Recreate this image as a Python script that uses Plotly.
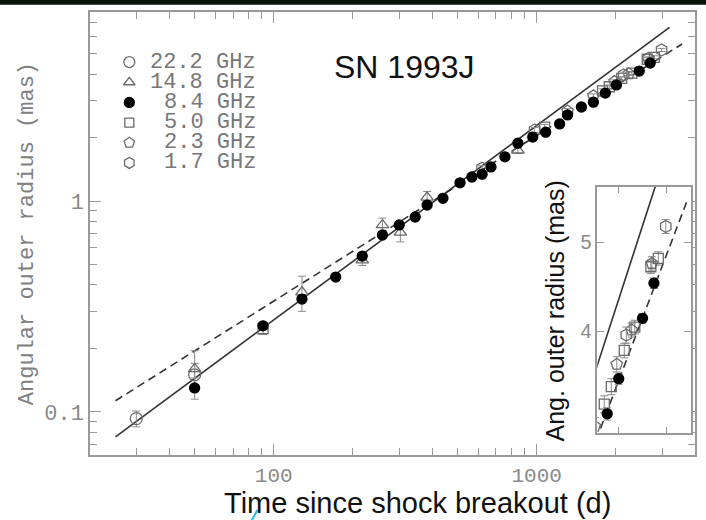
import plotly.graph_objects as go

# ---------------- data ----------------
days_222 = [30, 50]
r_222 = [0.093, 0.150]
e_222 = [0.008, 0.020]

days_148 = [50, 128, 217, 259, 303, 383, 848]
r_148 = [0.160, 0.37, 0.525, 0.77, 0.71, 1.04, 1.74]
e_148 = [0.035, 0.07, 0.03, 0.06, 0.07, 0.07, 0.06]

days_84 = [50, 91, 128, 172, 217, 259, 300, 345, 383, 440, 511, 567, 620, 670,
           757, 848, 966, 1082, 1222, 1310, 1479, 1643, 1824, 2010, 2455, 2702]
r_84 = [0.130, 0.256, 0.343, 0.436, 0.548, 0.69, 0.77, 0.84, 0.957, 1.03, 1.22,
        1.30, 1.34, 1.45, 1.62, 1.88, 2.01, 2.12, 2.32, 2.56, 2.79, 2.94, 3.25,
        3.55, 4.13, 4.51]
e_84 = [0.015, 0.008, 0.01, 0.01, 0.012, 0.015, 0.015, 0.02, 0.02, 0.02, 0.025,
        0.025, 0.025, 0.03, 0.03, 0.035, 0.035, 0.04, 0.04, 0.04, 0.04, 0.04, 0.05,
        0.05, 0.05, 0.06]

days_50 = [91, 1072, 1780, 1888, 2106, 2300, 2632, 2803]
r_50 = [0.248, 2.24, 3.33, 3.48, 3.81, 4.04, 4.70, 4.80]
e_50 = [0.015, 0.07, 0.07, 0.07, 0.07, 0.07, 0.08, 0.08]

days_23 = [1310, 1643, 1977, 2240, 2655]
r_23 = [2.67, 3.15, 3.68, 4.01, 4.74]
e_23 = [0.07, 0.07, 0.07, 0.07, 0.08]

days_17 = [620, 982, 2142, 2985]
r_17 = [1.43, 2.17, 3.96, 5.20]
e_17 = [0.04, 0.06, 0.08, 0.09]

# fitted expansion lines (end points, power laws are straight in log-log)
solid_days = [25, 3200]
solid_r = [0.0762, 6.65]
dash_days = [25, 3573]
dash_r = [0.113, 5.55]

legend_labels = ["22.2 GHz", "14.8 GHz", "8.4 GHz", "5.0 GHz", "2.3 GHz", "1.7 GHz"]

x_tickvals = [100, 1000]
x_ticktext = ["100", "1000"]
x_minor = [30, 40, 50, 60, 70, 80, 90, 200, 300, 400, 500, 600, 700, 800, 900,
           2000, 3000, 4000]
y_tickvals = [0.1, 1]
y_ticktext = ["0.1", "1"]
y_minor = [0.07, 0.08, 0.09, 0.2, 0.3, 0.4, 0.5, 0.6, 0.7, 0.8, 0.9,
           2, 3, 4, 5, 6, 7]
inset_yticks = [4, 5]
inset_xticks = [2000, 3000]

# ---------------- style ----------------
GREY = "#999999"
OPEN = "#6a6a6a"
MONO = "Liberation Mono"
SANS = "Liberation Sans, Arial"

series = [
    (days_222, r_222, e_222, "circle-open", 12, OPEN),
    (days_148, r_148, e_148, "triangle-up-open", 11, OPEN),
    (days_50, r_50, e_50, "square-open", 10, OPEN),
    (days_23, r_23, e_23, "pentagon-open", 12, OPEN),
    (days_17, r_17, e_17, "hexagon-open", 12, OPEN),
    (days_84, r_84, e_84, "circle", 10, "black"),
]

fig = go.Figure()

for xa, ya in (("x", "y"), ("x2", "y2")):
    fig.add_trace(go.Scatter(x=solid_days, y=solid_r, mode="lines",
                             line=dict(color="#333333", width=1.6),
                             xaxis=xa, yaxis=ya, showlegend=False, hoverinfo="skip"))
    fig.add_trace(go.Scatter(x=dash_days, y=dash_r, mode="lines",
                             line=dict(color="#333333", width=1.6, dash="8px,5px"),
                             xaxis=xa, yaxis=ya, showlegend=False, hoverinfo="skip"))
    for d, r, e, sym, sz, col in series:
        fig.add_trace(go.Scatter(
            x=d, y=r, mode="markers",
            marker=dict(symbol=sym, size=sz, color=col,
                        line=dict(color=col, width=1.3)),
            error_y=dict(type="data", array=e, visible=True, color="#8a8a8a",
                         thickness=1, width=4),
            xaxis=xa, yaxis=ya, showlegend=False))

# legend keys on an invisible helper axis
legend_syms = [("circle-open", 11, OPEN), ("triangle-up-open", 10, OPEN),
               ("circle", 10, "black"), ("square-open", 9, OPEN),
               ("pentagon-open", 11, OPEN), ("hexagon-open", 11, OPEN)]
for i, (sym, sz, col) in enumerate(legend_syms):
    fig.add_trace(go.Scatter(x=[0], y=[i], mode="markers",
                             marker=dict(symbol=sym, size=sz, color=col,
                                         line=dict(color=col, width=1.3)),
                             xaxis="x3", yaxis="y3", showlegend=False,
                             hoverinfo="skip"))

annotations = []
for i, lab in enumerate(legend_labels):
    annotations.append(dict(text=lab, x=0.2768, xref="paper", y=i, yref="y3",
                            xanchor="right", yanchor="middle", showarrow=False,
                            borderpad=0,
                            font=dict(family=MONO, size=22, color="#777777")))

annotations += [
    dict(text="SN 1993J", x=(406 - 90) / 607, y=(455 - 67) / 443, xref="paper",
         yref="paper", showarrow=False, xanchor="center", yanchor="middle",
         font=dict(family=SANS, size=32, color="#111111")),
    dict(text="Time since shock breakout (d)", x=(419 - 90) / 607,
         y=(455 - 503) / 443, xref="paper", yref="paper", showarrow=False,
         xanchor="center", yanchor="middle", borderpad=0,
         font=dict(family=SANS, size=29, color="#111111")),
    dict(text="Angular outer radius (mas)", x=(27 - 90) / 607,
         y=(455 - 234) / 443, xref="paper", yref="paper", showarrow=False,
         textangle=-90, xanchor="center", yanchor="middle",
         font=dict(family=MONO, size=22, color="#808080")),
    dict(text="Ang. outer radius (mas)", x=(557 - 90) / 607,
         y=(455 - 311) / 443, xref="paper", yref="paper", showarrow=False,
         textangle=-90, xanchor="center", yanchor="middle",
         font=dict(family=SANS, size=25, color="#111111")),
]

shapes = [
    dict(type="rect", xref="paper", yref="paper", x0=-0.2, x1=1.05,
         y0=1.0165, y1=1.04, fillcolor="#06140a", line=dict(width=0), layer="above"),
    dict(type="line", xref="paper", yref="paper", x0=(252 - 90) / 607,
         y0=(455 - 521) / 443, x1=(258 - 90) / 607, y1=(455 - 510) / 443,
         line=dict(color="#20c0f0", width=2)),
]

axis_common = dict(showgrid=False, zeroline=False, showline=True, linecolor=GREY,
                   linewidth=1.5, ticks="inside", tickcolor=GREY,
                   mirror="allticks")

fig.update_layout(
    width=706, height=520,
    margin=dict(l=90, r=9, t=12, b=65, pad=0),
    paper_bgcolor="white", plot_bgcolor="white",
    showlegend=False,
    xaxis=dict(type="log", range=[1.30103, 3.60206], tickvals=x_tickvals,
               ticktext=x_ticktext, ticklen=11, tickwidth=1.3,
               tickfont=dict(family=MONO, size=21, color="#8a8a8a"),
               minor=dict(tickvals=x_minor, ticks="inside", ticklen=7,
                          tickcolor=GREY, tickwidth=1),
               domain=[0, 1], anchor="y", **axis_common),
    yaxis=dict(type="log", range=[-1.204, 0.896], tickvals=y_tickvals,
               ticktext=y_ticktext, ticklen=11, tickwidth=1.3,
               tickfont=dict(family=MONO, size=22, color="#8a8a8a"),
               minor=dict(tickvals=y_minor, ticks="inside", ticklen=7,
                          tickcolor=GREY, tickwidth=1),
               domain=[0, 1], anchor="x", **axis_common),
    xaxis2=dict(type="log", range=[3.225, 3.567], tickvals=inset_xticks,
                showticklabels=False, ticklen=6,
                domain=[(599 - 90) / 607, (693 - 90) / 607], anchor="y2",
                **axis_common),
    yaxis2=dict(type="log", range=[0.491, 0.759], tickvals=inset_yticks,
                ticktext=[str(v) for v in inset_yticks], ticklen=7,
                tickfont=dict(family=SANS, size=20, color="#8a8a8a"),
                domain=[(455 - 433) / 443, (455 - 187) / 443], anchor="x2",
                **axis_common),
    xaxis3=dict(domain=[0.04, 0.09], range=[-1, 1], visible=False,
                anchor="y3", fixedrange=True),
    yaxis3=dict(domain=[(455 - 173) / 443, (455 - 52) / 443], range=[5.5, -0.5],
                visible=False, anchor="x3", fixedrange=True),
    annotations=annotations,
    shapes=shapes,
)

fig.write_html("out.html")
